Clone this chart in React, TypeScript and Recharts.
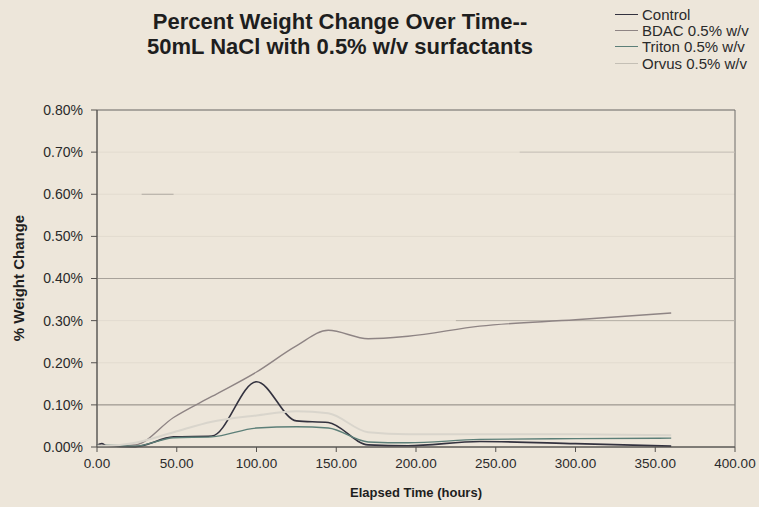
import React from "react";
import {
  LineChart,
  Line,
  XAxis,
  YAxis,
  CartesianGrid,
  ReferenceLine,
  ReferenceArea,
} from "recharts";

// Elapsed time (hours)
const times = [0, 3, 6, 24, 48, 72, 100, 125, 145, 170, 195, 240, 300, 360];
// % weight change (values in percent units)
const control = [0.004, 0.008, 0.003, 0.001, 0.024, 0.026, 0.155, 0.062, 0.058, 0.005, 0.003, 0.013, 0.008, 0.002];
const bdac = [0.004, 0.003, 0.002, 0.005, 0.07, 0.12, 0.178, 0.24, 0.277, 0.257, 0.263, 0.287, 0.302, 0.318];
const triton = [0.005, 0.002, 0.004, 0.002, 0.022, 0.024, 0.045, 0.048, 0.045, 0.012, 0.01, 0.018, 0.02, 0.021];
const orvus = [0.003, 0.003, 0.003, 0.01, 0.035, 0.06, 0.075, 0.085, 0.08, 0.035, 0.03, 0.03, 0.03, 0.028];

const xTicks = [0, 50, 100, 150, 200, 250, 300, 350, 400];
const yTicks = [0, 0.1, 0.2, 0.3, 0.4, 0.5, 0.6, 0.7, 0.8];

const seriesNames = ["Control", "BDAC 0.5% w/v", "Triton 0.5% w/v", "Orvus 0.5% w/v"];
const seriesKeys = ["control", "bdac", "triton", "orvus"];
const seriesColors = ["#33323f", "#8e8484", "#5c7f78", "#d9d5cc"];

const data = times.map((t, i) => ({
  t,
  control: control[i],
  bdac: bdac[i],
  triton: triton[i],
  orvus: orvus[i],
}));

const FONT = "Arial, 'Liberation Sans', Helvetica, sans-serif";

export default function App() {
  return (
    <div
      style={{
        position: "absolute",
        left: 0,
        top: 0,
        width: 759,
        height: 507,
        background: "#ede6da",
        fontFamily: FONT,
        overflow: "hidden",
      }}
    >
      <div
        style={{
          position: "absolute",
          left: 40,
          width: 600,
          top: 9,
          textAlign: "center",
          fontWeight: "bold",
          fontSize: 22,
          lineHeight: "25px",
          color: "#1e1e1e",
        }}
      >
        Percent Weight Change Over Time--
        <br />
        50mL NaCl with 0.5% w/v surfactants
      </div>
      <div
        style={{
          position: "absolute",
          left: 615,
          top: 6,
          fontSize: 15,
          color: "#2a2a2a",
        }}
      >
        {seriesNames.map((n, i) => (
          <div key={n} style={{ display: "flex", alignItems: "center", height: 16.3, whiteSpace: "nowrap" }}>
            <div
              style={{
                width: 23,
                height: 0,
                borderTop: `1px solid ${i === 3 ? "#c4bfb5" : seriesColors[i]}`,
                marginRight: 4,
              }}
            />
            <span>{n}</span>
          </div>
        ))}
      </div>
      <div style={{ position: "absolute", left: 0, top: 0 }}>
        <LineChart
          width={759}
          height={507}
          data={data}
          margin={{ top: 110, right: 24, bottom: 30, left: 37 }}
        >
          <CartesianGrid horizontal vertical={false} stroke="#e2dbcf" strokeWidth={1} />
          <ReferenceLine y={0.1} stroke="#8f8a84" strokeWidth={1} />
          <ReferenceLine y={0.4} stroke="#a8a29a" strokeWidth={1} />
          <ReferenceLine segment={[{ x: 225, y: 0.3 }, { x: 400, y: 0.3 }]} stroke="#b5afa6" />
          <ReferenceLine segment={[{ x: 265, y: 0.7 }, { x: 400, y: 0.7 }]} stroke="#c6c0b7" />
          <ReferenceLine segment={[{ x: 28, y: 0.6 }, { x: 48, y: 0.6 }]} stroke="#b0aaa2" />
          <ReferenceArea x1={0} x2={400} y1={0} y2={0.8} fill="none" stroke="#6d6a68" strokeWidth={1} ifOverflow="visible" />
          <XAxis
            dataKey="t"
            type="number"
            domain={[0, 400]}
            ticks={xTicks}
            tickFormatter={(v: number) => v.toFixed(2)}
            axisLine={{ stroke: "#55524f" }}
            tickLine={{ stroke: "#55524f" }}
            tickSize={5}
            tickMargin={6}
            tick={{ fontSize: 13.5, fill: "#2a2a2a", fontFamily: FONT }}
            height={30}
            interval={0}
          />
          <YAxis
            type="number"
            domain={[0, 0.8]}
            ticks={yTicks}
            tickFormatter={(v: number) => v.toFixed(2) + "%"}
            axisLine={{ stroke: "#55524f" }}
            tickLine={{ stroke: "#55524f" }}
            tickSize={6}
            tickMargin={8}
            tick={{ fontSize: 14, fill: "#2a2a2a", fontFamily: FONT }}
            width={60}
            interval={0}
          />
          {seriesKeys.map((k, i) => (
            <Line
              key={k}
              dataKey={k}
              name={seriesNames[i]}
              type="monotone"
              stroke={seriesColors[i]}
              strokeWidth={k === "control" ? 1.6 : k === "orvus" ? 2 : 1.4}
              dot={false}
              isAnimationActive={false}
            />
          ))}
        </LineChart>
      </div>
      <div
        style={{
          position: "absolute",
          left: 18,
          top: 278,
          transform: "translate(-50%, -50%) rotate(-90deg)",
          whiteSpace: "nowrap",
          fontWeight: "bold",
          fontSize: 15,
          color: "#1e1e1e",
        }}
      >
        % Weight Change
      </div>
      <div
        style={{
          position: "absolute",
          left: 416,
          top: 492,
          transform: "translate(-50%, -50%)",
          whiteSpace: "nowrap",
          fontWeight: "bold",
          fontSize: 13,
          color: "#1e1e1e",
        }}
      >
        Elapsed Time (hours)
      </div>
    </div>
  );
}
